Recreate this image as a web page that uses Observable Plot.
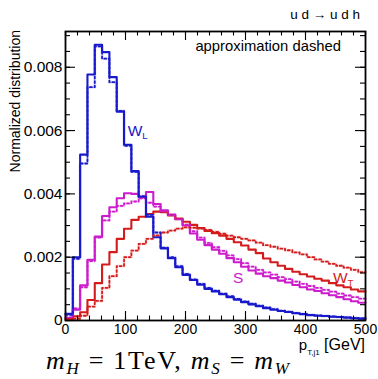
<!DOCTYPE html>
<html><head><meta charset="utf-8">
<script src="https://cdn.jsdelivr.net/npm/d3@7"></script>
<script src="https://cdn.jsdelivr.net/npm/@observablehq/plot@0.6"></script>
<style>body{margin:0;background:#fff}#chart{width:378px;height:379px}</style>
</head><body><div id="chart"></div>
<script>
// p_T,j1 histograms, 41 bins over 0–500 GeV, values in units of 1e-3
const binWidth = 500 / 41;
const wlSolid = [0.21,2.0,5.24,7.77,8.71,8.48,7.69,6.60,5.55,4.72,3.90,3.28,2.63,2.28,1.97,1.68,1.44,1.28,1.13,1.0,0.92,0.83,0.74,0.66,0.58,0.51,0.45,0.39,0.34,0.30,0.27,0.23,0.20,0.17,0.15,0.14,0.12,0.11,0.09,0.07,0.06];
const wlDash  = [0.18,1.95,4.96,7.37,8.66,8.27,7.53,6.62,5.52,4.70,3.93,3.34,2.78,2.30,2.0,1.72,1.47,1.30,1.16,1.03,0.94,0.85,0.77,0.68,0.60,0.53,0.47,0.41,0.36,0.31,0.28,0.24,0.21,0.18,0.16,0.14,0.13,0.11,0.10,0.08,0.07];
const sSolid  = [0.08,0.34,1.11,1.92,2.65,3.30,3.58,3.86,4.02,4.0,3.91,4.06,3.68,3.48,3.35,3.2,3.0,2.75,2.55,2.38,2.24,2.11,1.97,1.84,1.70,1.58,1.48,1.40,1.34,1.26,1.20,1.12,1.05,0.98,0.93,0.86,0.80,0.74,0.67,0.61,0.56];
const sDash   = [0.1,0.38,1.05,1.88,2.62,3.16,3.44,3.62,3.70,3.76,3.86,3.72,3.60,3.45,3.33,3.2,3.03,2.82,2.62,2.45,2.32,2.2,2.06,1.94,1.81,1.70,1.60,1.52,1.45,1.37,1.31,1.23,1.16,1.09,1.03,0.97,0.91,0.85,0.79,0.74,0.69];
const wtSolid = [0.05,0.13,0.26,0.65,1.18,1.77,2.16,2.58,2.90,3.18,3.28,3.36,3.44,3.42,3.32,3.22,3.12,3.02,2.92,2.83,2.76,2.68,2.58,2.47,2.37,2.24,2.13,1.96,1.84,1.73,1.63,1.54,1.46,1.39,1.32,1.26,1.18,1.11,1.05,0.98,0.92];
const wtDash  = [0.02,0.05,0.15,0.44,0.62,1.03,1.40,1.72,2.0,2.21,2.42,2.58,2.69,2.78,2.84,2.90,2.94,2.93,2.90,2.86,2.80,2.74,2.68,2.63,2.58,2.53,2.46,2.38,2.33,2.27,2.22,2.15,2.09,2.0,1.93,1.86,1.79,1.73,1.67,1.60,1.53];
const xTickLabels = [0,100,200,300,400,500];
const yTickValues = [0,2,4,6,8];

const blue = "#1818cc", magenta = "#cc1ccc", red = "#d41c1c";
const series = [
  {name:"S solid", vals:sSolid, color:magenta, dash:false},
  {name:"WT solid", vals:wtSolid, color:red, dash:false},
  {name:"WL solid", vals:wlSolid, color:blue, dash:false},
  {name:"S dash", vals:sDash, color:magenta, dash:true},
  {name:"WT dash", vals:wtDash, color:red, dash:true},
  {name:"WL dash", vals:wlDash, color:blue, dash:true}
];
function steps(vals, name){
  const out = [];
  vals.forEach((v,i)=>{ out.push({x:i*binWidth, y:v, s:name}); out.push({x:(i+1)*binWidth, y:v, s:name}); });
  return out;
}
const yMax = 9.13;
const W = 378, H = 379, mL = 65, mR = 13, mT = 31, mB = 59;
const pxY = yMax / (H - mT - mB), pxX = 500 / (W - mL - mR);
const xMinor = d3.range(0, 501, 20), yMinor = d3.range(0, 9.01, 0.5);

const marks = [];
for (const s of series) {
  const d = steps(s.vals, s.name);
  if (s.dash) {
    marks.push(Plot.line(d, {x:"x", y:"y", stroke:s.color, strokeWidth:3, strokeOpacity:0.15}));
    marks.push(Plot.line(d, {x:"x", y:"y", stroke:s.color, strokeWidth:1.8, strokeDasharray:"2,2.5"}));
  } else {
    marks.push(Plot.line(d, {x:"x", y:"y", stroke:s.color, strokeWidth:2.1}));
  }
}
const tk = {stroke:"black", strokeWidth:1.1};
marks.push(
  Plot.ruleX(xTickLabels, {x:d=>d, y1:0, y2:9*pxY, ...tk}),
  Plot.ruleX(xTickLabels, {x:d=>d, y1:yMax, y2:yMax-9*pxY, ...tk}),
  Plot.ruleX(xMinor, {x:d=>d, y1:0, y2:4.5*pxY, ...tk}),
  Plot.ruleX(xMinor, {x:d=>d, y1:yMax, y2:yMax-4.5*pxY, ...tk}),
  Plot.ruleY(yTickValues, {y:d=>d, x1:0, x2:10*pxX, ...tk}),
  Plot.ruleY(yTickValues, {y:d=>d, x1:500, x2:500-10*pxX, ...tk}),
  Plot.ruleY(yMinor, {y:d=>d, x1:0, x2:5*pxX, ...tk}),
  Plot.ruleY(yMinor, {y:d=>d, x1:500, x2:500-5*pxX, ...tk}),
  Plot.frame({stroke:"black", strokeWidth:1.8}),
  Plot.axisX({ticks:xTickLabels, tickSize:0, tickPadding:4, fontSize:14, tickFormat:d=>String(d)}),
  Plot.axisY({ticks:yTickValues, tickSize:0, tickPadding:3, fontSize:15.5, tickFormat:d=>d===0?"0":(d/1000).toFixed(3)})
);

const plot = Plot.plot({
  width:W, height:H, marginLeft:mL, marginRight:mR, marginTop:mT, marginBottom:mB,
  style:{fontFamily:"'Liberation Sans', Arial, sans-serif", color:"black", background:"white"},
  x:{domain:[0,500], label:null},
  y:{domain:[0,yMax], label:null},
  marks
});
document.getElementById("chart").appendChild(plot);

const sx = plot.scale("x"), sy = plot.scale("y");
const svg = d3.select(plot);
const sans = "'Liberation Sans', Arial, sans-serif";
function label(x, y, parts, opts={}) {
  const t = svg.append("text").attr("x", x).attr("y", y)
    .attr("font-family", opts.family || sans).attr("font-size", opts.size || 15)
    .attr("fill", opts.color || "black").attr("text-anchor", opts.anchor || "start");
  if (opts.transform) t.attr("transform", opts.transform);
  if (opts.textLength) t.attr("textLength", opts.textLength).attr("lengthAdjust", "spacing");
  for (const p of parts) {
    const ts = t.append("tspan").text(p.t);
    if (p.size) ts.attr("font-size", p.size);
    else if (p.sub) ts.attr("font-size", (opts.size||15)*0.62);
    if (p.dy) ts.attr("dy", p.dy);
    if (p.italic) ts.attr("font-style", "italic");
  }
  return t;
}
// series labels
label(sx.apply(104.5), sy.apply(5.81), [{t:"W"},{t:"L", sub:true, dy:3}], {color:blue, size:15.5});
label(sx.apply(446.5), sy.apply(1.18), [{t:"W"},{t:"T", sub:true, dy:3}], {color:red, size:15.5});
label(sx.apply(280), sy.apply(1.17), [{t:"S"}], {color:magenta, size:15.5});
label(sx.apply(460), sy.apply(8.5), [{t:"approximation dashed"}], {anchor:"end", size:14.8});
label(360, 19, [{t:"u d \u2192 u d h"}], {anchor:"end", size:13.5});
// axis titles
label(20, mT - 1, [{t:"Normalized distribution"}], {anchor:"end", size:14, transform:`rotate(-90,20,${mT-1})`});
label(W - mR, 350, [{t:"p", size:15},{t:"T,j1", size:8, dy:5},{t:" [GeV]", size:16, dy:-5}], {anchor:"end", size:16});
// bottom formula
const serif = "'Liberation Serif', 'DejaVu Serif', serif";
label(46, 369, [
  {t:"m", italic:true},{t:"H", italic:true, dy:5, size:17},
  {t:" = 1TeV, ", dy:-5},
  {t:"m", italic:true},{t:"S", italic:true, dy:5, size:17},
  {t:" = ", dy:-5},
  {t:"m", italic:true},{t:"W", italic:true, dy:5, size:17}
], {family:serif, size:26, textLength:243});
</script>
</body></html>
